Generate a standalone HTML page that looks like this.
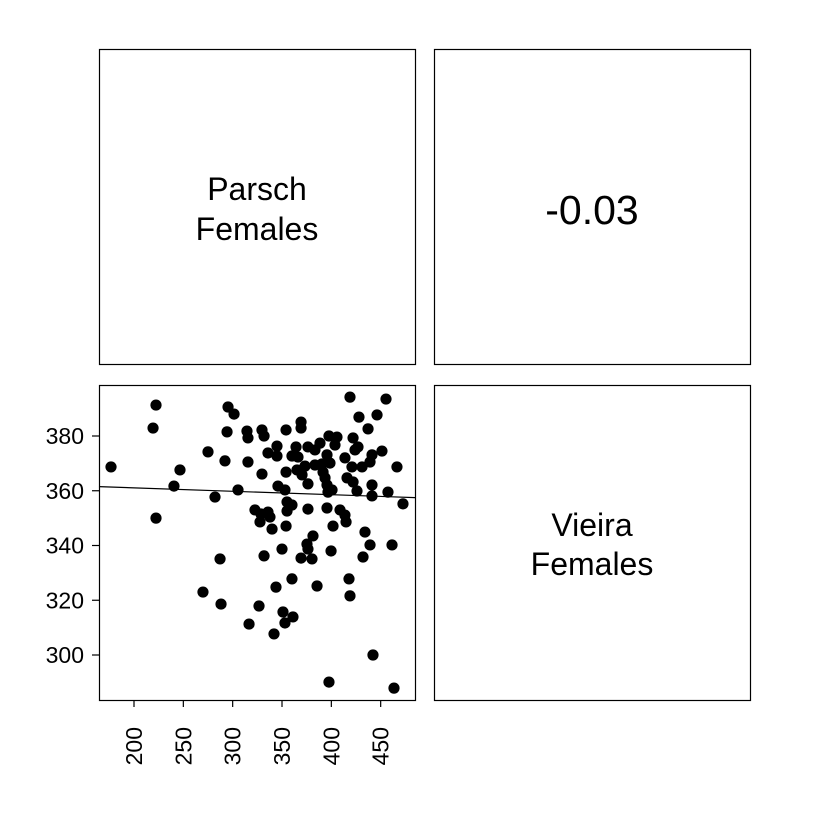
<!DOCTYPE html>
<html><head><meta charset="utf-8"><style>
html,body{margin:0;padding:0;background:#fff;}
svg{display:block;font-family:"Liberation Sans",Arial,sans-serif;}
</style></head><body>
<svg id="chart" width="840" height="840" viewBox="0 0 840 840">
<rect x="0" y="0" width="840" height="840" fill="#fff"/>
<rect x="99.5" y="49.5" width="316" height="315" fill="none" stroke="#000" stroke-width="1.2"/>
<rect x="434.5" y="49.5" width="316" height="315" fill="none" stroke="#000" stroke-width="1.2"/>
<rect x="99.5" y="385.5" width="316" height="315" fill="none" stroke="#000" stroke-width="1.2"/>
<rect x="434.5" y="385.5" width="316" height="315" fill="none" stroke="#000" stroke-width="1.2"/>
<text x="257" y="200" font-size="32" text-anchor="middle">Parsch</text>
<text x="257" y="240" font-size="32" text-anchor="middle">Females</text>
<text x="592" y="224" font-size="41" text-anchor="middle">-0.03</text>
<text x="592" y="536" font-size="32" text-anchor="middle">Vieira</text>
<text x="592" y="575" font-size="32" text-anchor="middle">Females</text>
<g id="marks"></g>
</svg>
<script>
const xTicks=[200,250,300,350,400,450];
const yTicks=[300,320,340,360,380];
const parschX=[176.7,222.3,219.3,275.0,246.6,240.5,222.3,282.1,292.2,295.3,301.4,294.3,314.5,315.5,315.5,305.4,287.2,269.9,288.2,316.6,
418.9,455.4,428.0,446.3,369.3,369.3,329.7,331.8,354.1,437.2,397.6,405.7,422.0,344.9,364.2,376.3,388.5,403.7,427.0,335.8,344.9,360.1,366.2,383.4,424.0,451.3,441.2,413.8,395.6,398.6,390.5,383.4,373.3,365.2,354.1,329.7,370.3,391.6,420.9,431.1,439.2,466.5,415.9,393.6,422.0,376.3,345.9,353.0,395.6,396.6,400.7,426.0,441.2,441.2,457.4,472.6,355.1,360.1,355.1,376.3,395.6,408.8,413.8,414.9,401.7,322.6,328.7,335.8,337.8,327.7,339.9,354.1,381.4,375.3,376.3,350.0,331.8,369.3,380.4,399.7,434.1,439.2,461.5,432.1,360.1,343.9,385.5,417.9,418.9,326.7,351.0,361.1,353.0,341.9,442.2,397.6,463.5];
const vieiraY=[368.7,391.3,382.9,374.2,367.6,361.7,350.0,357.7,370.9,390.6,388.0,381.5,381.8,379.3,370.5,360.3,335.1,323.0,318.6,311.3,
394.2,393.5,386.9,387.7,385.1,382.9,382.2,380.0,382.2,382.6,380.0,379.6,379.3,376.3,376.0,376.0,377.4,376.7,376.0,373.8,372.7,372.7,372.3,374.9,374.9,374.5,373.1,372.0,373.1,370.1,369.8,369.4,369.0,367.6,366.8,366.1,365.8,366.8,368.7,368.7,370.5,368.7,364.7,364.7,363.2,362.5,361.7,360.3,362.1,359.5,360.3,359.9,362.1,358.1,359.5,355.2,355.9,354.8,352.6,353.3,353.7,353.0,351.1,348.6,347.1,353.0,351.5,352.2,350.4,348.6,346.0,347.1,343.5,340.5,338.7,338.7,336.2,335.4,335.1,338.0,344.9,340.2,340.2,335.8,327.8,324.8,325.2,327.8,321.6,317.9,315.7,313.9,311.7,307.7,300.0,290.1,287.9];
const fitX=[164.5,484.8];
const fitY=[361.5,357.5];

const NS="http://www.w3.org/2000/svg";
const sx=v=>134+(v-200)*0.9867;
const sy=v=>436-(v-380)*2.7375;
const g=document.getElementById('marks');
function mk(t,a){const e=document.createElementNS(NS,t);for(const k in a)e.setAttribute(k,a[k]);g.appendChild(e);return e;}

xTicks.forEach(t=>{
  const l=mk('line',{x1:sx(t),x2:sx(t),y1:700,y2:707,stroke:'#000','stroke-width':1.2});
  
  
  const tx=mk('text',{x:0,y:0,'font-size':23,'text-anchor':'end',transform:`translate(${sx(t)+8},727) rotate(-90)`});
  tx.textContent=t;
  
  
});
yTicks.forEach(t=>{
  const l=mk('line',{x1:92,x2:99,y1:sy(t),y2:sy(t),stroke:'#000','stroke-width':1.2});
  
  
  const tx=mk('text',{x:84,y:sy(t)+8,'font-size':23,'text-anchor':'end'});
  tx.textContent=t;
  
  
});
parschX.forEach((v,i)=>{
  const c=mk('circle',{cx:sx(v),cy:sy(vieiraY[i]),r:5.6,fill:'#000'});
  
  
});
const fl=mk('line',{x1:sx(fitX[0]),y1:sy(fitY[0]),x2:sx(fitX[1]),y2:sy(fitY[1]),stroke:'#000','stroke-width':1.2});


</script>
</body></html>
